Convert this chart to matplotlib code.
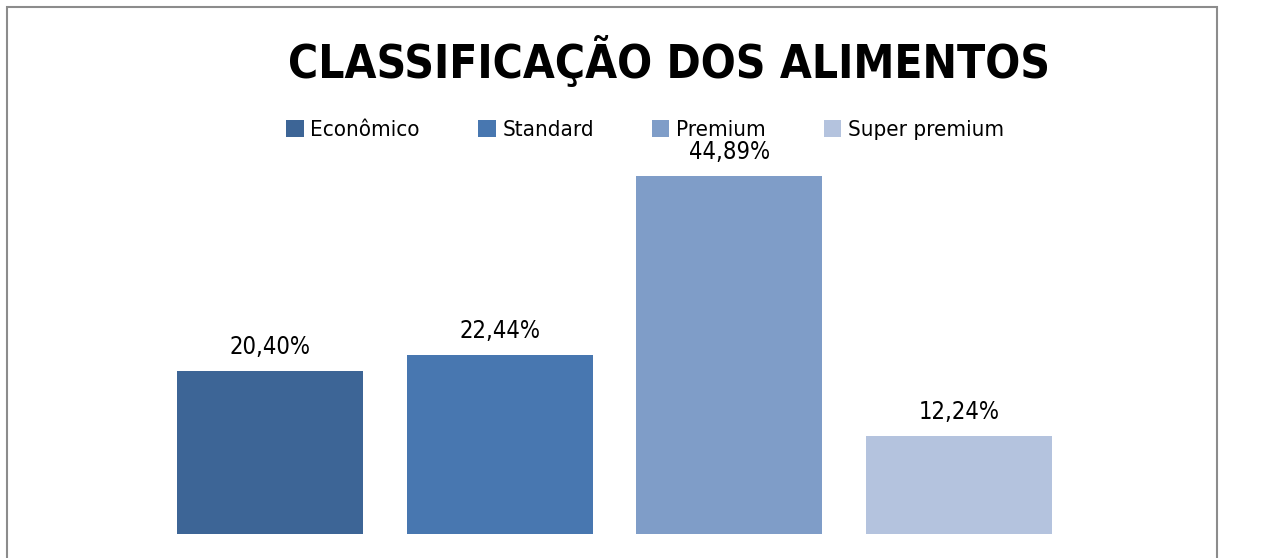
import matplotlib.pyplot as plt
from matplotlib.patches import Rectangle, Patch

# categorias e percentuais
categorias = ['Econômico', 'Standard', 'Premium', 'Super premium']
percentuais = [20.40, 22.44, 44.89, 12.24]
rotulos = ['20,40%', '22,44%', '44,89%', '12,24%']
cores = ['#3d6596', '#4877b0', '#7f9dc8', '#b4c3de']

plt.rcParams['font.family'] = ['DejaVu Sans']

fig = plt.figure(figsize=(12.81, 5.58), dpi=100)
W, H = 1281, 558

# moldura do gráfico
fig.patches.append(Rectangle((7 / W, -0.05), 1210 / W, 1.05 - 7 / H,
                             transform=fig.transFigure, fill=False,
                             edgecolor='#8c8c8c', linewidth=1.5))

ax = fig.add_axes([155 / W, 24 / H, 919 / W, 398.75 / H])
x = range(len(categorias))
barras = ax.bar(x, percentuais, width=0.81, color=cores)
ax.set_xlim(-0.5, 3.5)
ax.set_ylim(0, 50)
ax.axis('off')

for b, txt in zip(barras, rotulos):
    ax.annotate(txt, (b.get_x() + b.get_width() / 2, b.get_height()),
                xytext=(0, 9), textcoords='offset points',
                ha='center', va='bottom', fontsize=17, color='black',
                fontstretch='condensed')

fig.text(288 / W, 1 - 62 / H, 'CLASSIFICAÇÃO DOS ALIMENTOS',
         ha='left', va='center', fontsize=33, fontweight='bold',
         fontstretch='condensed')

handles = [Patch(facecolor=c, edgecolor='none') for c in cores]
fig.legend(handles, categorias, loc='center left',
           bbox_to_anchor=(266 / W, 1 - 130 / H), ncol=4, frameon=False,
           prop={'size': 16, 'stretch': 'condensed'},
           handlelength=0.8, handleheight=0.8,
           handletextpad=0.3, columnspacing=2.6)

fig.savefig('out.png', dpi=100)
